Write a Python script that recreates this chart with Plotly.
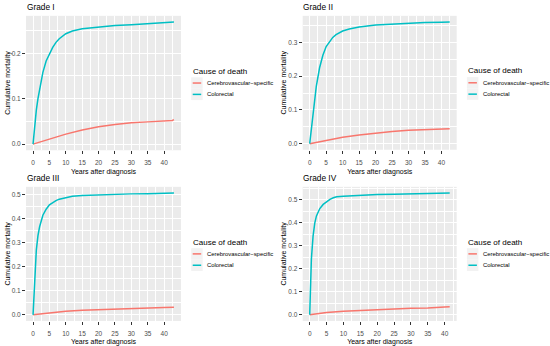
import plotly.graph_objects as go

# ---------------- data ----------------
grades = ["Grade I", "Grade II", "Grade III", "Grade IV"]
series_names = ["Cerebrovascular\u2212specific", "Colorectal"]
x_ticks = [0, 5, 10, 15, 20, 25, 30, 35, 40]

# Grade I
g1_t_crc = [0, 0.5, 1, 1.5, 2, 3, 4, 5, 6, 7, 8, 10, 12, 15, 20, 25, 30, 35, 40, 43]
g1_crc = [0, 0.040, 0.075, 0.100, 0.122, 0.158, 0.183, 0.200, 0.213, 0.224, 0.232,
          0.243, 0.249, 0.254, 0.258, 0.261, 0.263, 0.265, 0.267, 0.269]
g1_t_cv = [0, 5, 10, 15, 20, 25, 30, 35, 40, 42.5, 43]
g1_cv = [0, 0.011, 0.022, 0.031, 0.038, 0.043, 0.047, 0.049, 0.051, 0.052, 0.054]

# Grade II
g2_t_crc = [0, 0.5, 1, 1.5, 2, 3, 4, 5, 6, 7, 8, 10, 12, 15, 20, 25, 30, 35, 40, 42.5]
g2_crc = [0, 0.045, 0.090, 0.135, 0.170, 0.225, 0.262, 0.288, 0.303, 0.315, 0.323,
          0.334, 0.340, 0.346, 0.352, 0.355, 0.358, 0.359, 0.360, 0.361]
g2_t_cv = [0, 5, 10, 15, 20, 25, 30, 35, 40, 42.5]
g2_cv = [0, 0.010, 0.019, 0.026, 0.032, 0.036, 0.040, 0.042, 0.043, 0.044]

# Grade III
g3_t_crc = [0, 0.25, 0.5, 1, 1.5, 2, 3, 4, 5, 6, 7, 8, 10, 12, 15, 20, 25, 30, 35, 40, 43]
g3_crc = [0, 0.080, 0.150, 0.270, 0.330, 0.367, 0.415, 0.440, 0.458, 0.468, 0.476,
          0.482, 0.489, 0.494, 0.497, 0.500, 0.502, 0.504, 0.505, 0.506, 0.508]
g3_t_cv = [0, 5, 10, 15, 20, 25, 30, 35, 40, 43]
g3_cv = [0, 0.008, 0.015, 0.019, 0.022, 0.025, 0.027, 0.029, 0.031, 0.032]

# Grade IV
g4_t_crc = [0, 0.25, 0.5, 1, 1.5, 2, 2.5, 3, 4, 5, 6, 7, 8, 10, 12, 15, 20, 25, 30, 35, 40, 41.5]
g4_crc = [0, 0.150, 0.243, 0.342, 0.399, 0.430, 0.448, 0.462, 0.480, 0.492, 0.502, 0.509,
          0.513, 0.516, 0.518, 0.520, 0.523, 0.524, 0.526, 0.527, 0.529, 0.530]
g4_t_cv = [0, 5, 10, 15, 20, 25, 30, 35, 39.5, 40, 41.5]
g4_cv = [0, 0.010, 0.016, 0.020, 0.023, 0.026, 0.029, 0.030, 0.031, 0.034, 0.035]

x_title = "Years after diagnosis"
y_title = "Cumulative mortality"
legend_title = "Cause of death"

panel_data = [
    (g1_t_cv, g1_cv, g1_t_crc, g1_crc),
    (g2_t_cv, g2_cv, g2_t_crc, g2_crc),
    (g3_t_cv, g3_cv, g3_t_crc, g3_crc),
    (g4_t_cv, g4_cv, g4_t_crc, g4_crc),
]

# ---------------- layout / style ----------------
W, H = 550, 346
colors = ["#F8766D", "#00BFC4"]
FONT = "Arial, Liberation Sans, sans-serif"
# plot areas in pixels (left, right, top, bottom)
boxes = [(26, 181, 16, 152), (302.7, 456.7, 16, 151.5),
         (26, 181, 189, 324.7), (302.7, 456.7, 189, 324.7)]

fig = go.Figure()
layout = dict(width=W, height=H, margin=dict(l=0, r=0, t=0, b=0),
              paper_bgcolor="white", plot_bgcolor="#EBEBEB",
              showlegend=False, font=dict(family=FONT))
shapes, annotations = [], []

for i, (name, (tcv, ycv, tcr, ycr)) in enumerate(zip(grades, panel_data)):
    sfx = "" if i == 0 else str(i + 1)
    xa, ya = "x" + sfx, "y" + sfx
    for tt, yy, col, sname in [(tcv, ycv, colors[0], series_names[0]),
                               (tcr, ycr, colors[1], series_names[1])]:
        fig.add_trace(go.Scatter(x=tt, y=yy, mode="lines", name=sname,
                                 line=dict(color=col, width=1.5),
                                 xaxis=xa, yaxis=ya, showlegend=False))
    l, r, t, b = boxes[i]
    xmin = min(min(tcv), min(tcr)); xmax = max(max(tcv), max(tcr))
    ymin = min(min(ycv), min(ycr)); ymax = max(max(ycv), max(ycr))
    xs, ys = xmax - xmin, ymax - ymin
    common = dict(showgrid=True, gridcolor="white", gridwidth=1, zeroline=False,
                  showline=False, ticks="outside", ticklen=3, tickwidth=1,
                  tickcolor="#333333", tickfont=dict(size=6.5, color="#4D4D4D"),
                  title_font=dict(size=7, color="black"))
    layout["xaxis" + sfx] = dict(common, domain=[l / W, r / W],
                                 range=[xmin - 0.05 * xs, xmax + 0.05 * xs],
                                 tickmode="array", tickvals=x_ticks,
                                 ticktext=[str(v) for v in x_ticks], anchor=ya,
                                 ticklabelstandoff=3,
                                 minor=dict(dtick=2.5, tick0=0, showgrid=True,
                                            gridcolor="white", gridwidth=0.5, ticklen=0),
                                 title=dict(text=x_title, standoff=4))
    layout["yaxis" + sfx] = dict(common, domain=[1 - b / H, 1 - t / H],
                                 range=[ymin - 0.05 * ys, ymax + 0.05 * ys],
                                 dtick=0.1, tick0=0, tickformat=".1f", anchor=xa,
                                 minor=dict(dtick=0.05, tick0=0, showgrid=True,
                                            gridcolor="white", gridwidth=0.5, ticklen=0),
                                 title=dict(text=y_title, standoff=0))
    # panel title
    annotations.append(dict(text=name, x=(l - 1.5) / W, y=1 - (t - 8.5) / H,
                            xref="paper", yref="paper", xanchor="left", yanchor="middle",
                            showarrow=False, font=dict(size=8.3, color="black")))
    # legend (ggplot style)
    cy = (t + b) / 2
    lx = r + 9.7
    annotations.append(dict(text=legend_title, x=lx / W, y=1 - (cy - 12) / H,
                            xref="paper", yref="paper", xanchor="left", yanchor="middle",
                            showarrow=False, font=dict(size=8, color="black")))
    for k, (col, sname) in enumerate(zip(colors, series_names)):
        ey = cy + k * 11.5
        shapes.append(dict(type="rect", xref="paper", yref="paper",
                           x0=(lx + 0.5) / W, x1=(lx + 12) / W,
                           y0=1 - (ey - 5.75) / H, y1=1 - (ey + 5.75) / H,
                           fillcolor="#F2F2F2", line=dict(width=0), layer="below"))
        shapes.append(dict(type="line", xref="paper", yref="paper",
                           x0=(lx + 2) / W, x1=(lx + 10.5) / W,
                           y0=1 - ey / H, y1=1 - ey / H,
                           line=dict(color=col, width=1.5)))
        annotations.append(dict(text=sname, x=(lx + 14.5) / W, y=1 - ey / H,
                                xref="paper", yref="paper", xanchor="left",
                                yanchor="middle", showarrow=False,
                                font=dict(size=5.9, color="black")))

layout["shapes"] = shapes
layout["annotations"] = annotations
fig.update_layout(**layout)
fig.write_html("out.html", config={"displayModeBar": False},
               post_script="document.body.style.margin='0';document.body.style.overflow='hidden';")
